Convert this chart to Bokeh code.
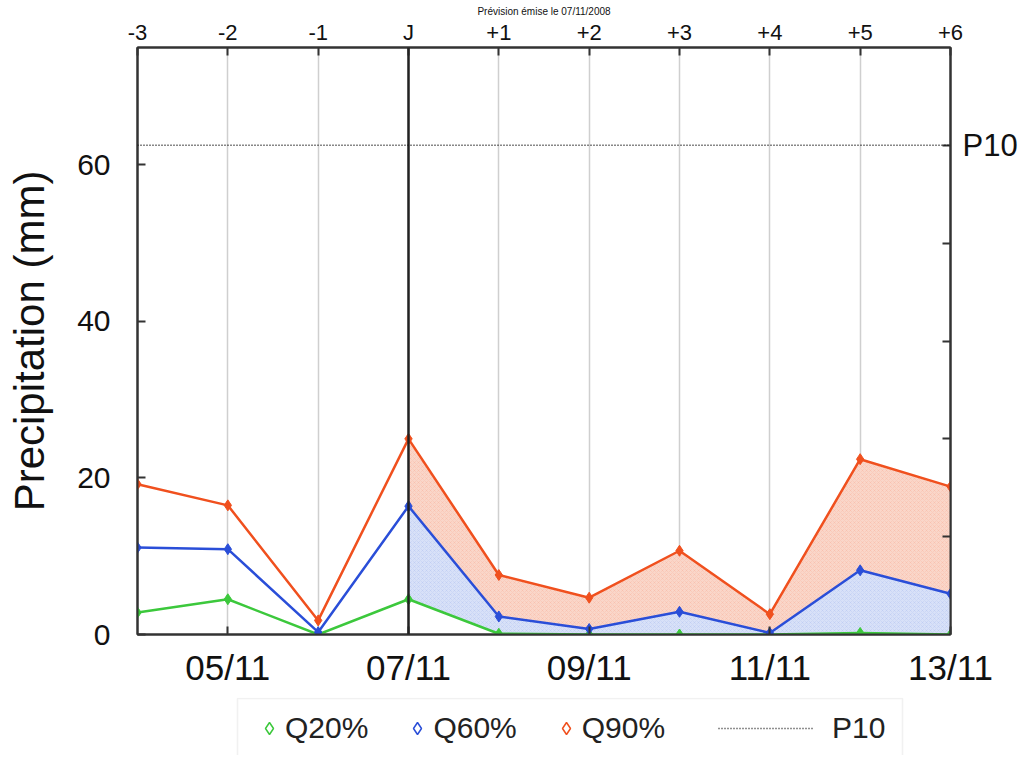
from bokeh.plotting import figure
from bokeh.layouts import column
from bokeh.models import (LinearAxis, FixedTicker, Span, Legend, LegendItem,
                          BoxAnnotation, Range1d)
from bokeh.embed import file_html
from bokeh.resources import INLINE

# ---------------- data ----------------
days = [4, 5, 6, 7, 8, 9, 10, 11, 12, 13]
date_ticks = [5, 7, 9, 11, 13]
date_labels = ["05/11", "07/11", "09/11", "11/11", "13/11"]
lead_labels = ["-3", "-2", "-1", "J", "+1", "+2", "+3", "+4", "+5", "+6"]
q20 = [2.8, 4.5, 0.0, 4.5, 0.1, 0.0, 0.0, 0.0, 0.2, 0.0]
q60 = [11.1, 10.9, 0.3, 16.4, 2.3, 0.7, 2.9, 0.2, 8.2, 5.2]
q90 = [19.2, 16.5, 1.8, 25.0, 7.6, 4.7, 10.7, 2.6, 22.4, 18.9]
p10 = 62.5
j_day = 7
left_ticks = [0, 20, 40, 60]
right_ticks = [12.5, 25, 37.5, 50, 62.5]
series_names = ["Q20%", "Q60%", "Q90%"]
title_text = "Prévision émise le 07/11/2008"

FONT = "Liberation Sans"
GREEN = "#3cc83c"
BLUE = "#2a4ed8"
RED = "#f0501e"
AXC = "#333333"
TXT = "#111111"
colors = [GREEN, BLUE, RED]
series = [q20, q60, q90]

W = 1021
p = figure(width=W, height=697, x_range=Range1d(4, 13), y_range=Range1d(0, 75),
           output_backend="svg", toolbar_location=None,
           min_border_left=137, min_border_right=71, min_border_top=47, min_border_bottom=63)
p.background_fill_color = "white"
p.outline_line_color = AXC
p.outline_line_width = 2

# grid
p.ygrid.visible = False
p.xgrid.ticker = FixedTicker(ticks=days)
p.xgrid.grid_line_color = "#cfcfcf"
p.xgrid.grid_line_width = 1.5


def style_axis(ax, size):
    ax.axis_line_color = AXC
    ax.axis_line_width = 2
    ax.major_tick_in = 8
    ax.major_tick_out = 0
    ax.major_tick_line_color = AXC
    ax.major_tick_line_width = 2
    ax.minor_tick_line_color = None
    ax.major_label_text_font = FONT
    ax.major_label_text_font_size = size
    ax.major_label_text_color = TXT


# left axis
la = p.left[0]
la.ticker = FixedTicker(ticks=left_ticks)
style_axis(la, "30px")
la.major_label_standoff = 27
la.axis_label = "Precipitation (mm)"
la.axis_label_text_font = FONT
la.axis_label_text_font_size = "42px"
la.axis_label_text_font_style = "normal"
la.axis_label_text_color = TXT
la.axis_label_standoff = 21

# bottom axis
ba = p.below[0]
ba.ticker = FixedTicker(ticks=date_ticks)
ba.major_label_overrides = {t: l for t, l in zip(date_ticks, date_labels)}
style_axis(ba, "35px")
ba.major_label_standoff = 13

# top axis (lead days), with the issue-date caption above it
ta = LinearAxis(ticker=FixedTicker(ticks=days),
                major_label_overrides={d: l for d, l in zip(days, lead_labels)})
style_axis(ta, "22px")
ta.major_label_standoff = 3
ta.axis_label = title_text
ta.axis_label_text_font = FONT
ta.axis_label_text_font_size = "10px"
ta.axis_label_text_font_style = "normal"
ta.axis_label_text_color = TXT
ta.axis_label_standoff = 0
p.add_layout(ta, "above")

# right axis
ra = LinearAxis(ticker=FixedTicker(ticks=right_ticks),
                major_label_overrides={t: ("P10" if t == p10 else "") for t in right_ticks})
style_axis(ra, "31px")
ra.major_label_standoff = 12
p.add_layout(ra, "right")

# filled areas (forecast part)
i0 = days.index(j_day)
p.varea(x=days[i0:], y1=q60[i0:], y2=q90[i0:], fill_color="#fad6c9",
        hatch_pattern="diagonal_cross", hatch_color=RED, hatch_alpha=0.15,
        hatch_scale=4, hatch_weight=0.6)
p.varea(x=days[i0:], y1=q20[i0:], y2=q60[i0:], fill_color="#d8e1f8",
        hatch_pattern="diagonal_cross", hatch_color=BLUE, hatch_alpha=0.12,
        hatch_scale=4, hatch_weight=0.6)

# reference lines
p.add_layout(Span(location=j_day, dimension="height", line_color="#222222", line_width=2.5))
p.add_layout(Span(location=p10, dimension="width", line_color=TXT,
                  line_dash="1 2", line_width=1.5))

# series
for q, c in zip(series, colors):
    p.line(days, q, line_color=c, line_width=2.5)
    p.scatter(days, q, marker="diamond", size=11, fill_color=c, line_color=c)

# ---------------- legend strip ----------------
lg = figure(width=W, height=58, x_range=Range1d(0, 1), y_range=Range1d(0, 1),
            output_backend="svg", toolbar_location=None,
            x_axis_location=None, y_axis_location=None,
            min_border_left=137, min_border_right=71, min_border_top=0, min_border_bottom=0)
lg.grid.visible = False
lg.outline_line_color = None
lg.background_fill_color = "white"

# legend renderers use the real series; they fall outside this strip's ranges
leg_r = [lg.scatter(days, q, marker="diamond", size=12, fill_color=None,
                    line_color=c, line_width=1.5) for q, c in zip(series, colors)]
p10_r = lg.line(days, [p10] * len(days), line_color="#222222", line_dash="1 2", line_width=1.5)

lg.add_layout(BoxAnnotation(left=100, right=765, top=57, bottom=-5,
                            left_units="screen", right_units="screen",
                            top_units="screen", bottom_units="screen",
                            fill_alpha=0, line_color="#cfcfcf", line_width=1.5))

common = dict(orientation="horizontal", padding=0, margin=0,
              border_line_color=None, background_fill_alpha=0,
              label_text_font=FONT, label_text_font_size="30px", label_text_color="#222222")
legA = Legend(items=[LegendItem(label=l, renderers=[r]) for l, r in zip(series_names, leg_r)],
              location=(117, 10), glyph_width=30, glyph_height=30, label_standoff=1,
              spacing=34, **common)
legB = Legend(items=[LegendItem(label="P10", renderers=[p10_r])],
              location=(581, 10), glyph_width=95, glyph_height=30, label_standoff=19, **common)
lg.add_layout(legA, "center")
lg.add_layout(legB, "center")

layout = column(p, lg, spacing=0)
open("out.html", "w").write(file_html(layout, INLINE))
